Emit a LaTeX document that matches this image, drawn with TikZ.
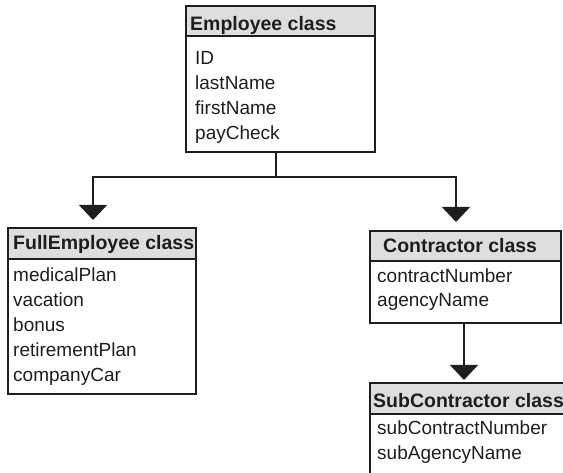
\documentclass[tikz,border=0pt]{standalone}
\usepackage{fontspec}
\setmainfont{Liberation Sans}
\usetikzlibrary{arrows.meta}
\definecolor{headgray}{RGB}{222,222,222}
\definecolor{ink}{RGB}{30,30,30}
\begin{document}
\begin{tikzpicture}[x=1pt,y=-1pt,
  frame/.style={draw=ink, line width=1.6pt, anchor=north west, inner sep=0pt},
  head/.style={frame, fill=headgray},
  title/.style={anchor=base west, inner sep=0pt, text=ink, font=\bfseries\fontsize{19.5}{24}\selectfont},
  attr/.style={anchor=base west, inner sep=0pt, text=ink, font=\fontsize{19}{25}\selectfont},
  conn/.style={draw=ink, line width=1.4pt},
  tip/.style={-{Triangle[width=28pt,length=15pt]}}]
\useasboundingbox (0,0) rectangle (563,473);
\clip (0,0) rectangle (563,473);

% Employee class
\node[frame, minimum width=189pt, minimum height=146pt] (emp) at (185,5) {};
\node[head, minimum width=189pt, minimum height=30pt] (emph) at (185,5) {};
\node[title] (empt) at (190,31) {Employee class};
\foreach \t [count=\i] in {ID,lastName,firstName,payCheck}
  \node[attr] (emp\i) at (195,{65+24.7*(\i-1)}) {\t};

% FullEmployee class
\node[frame, minimum width=188pt, minimum height=166pt] (full) at (7,227) {};
\node[head, minimum width=188pt, minimum height=31pt] (fullh) at (7,227) {};
\node[title] (fullt) at (13,250) {FullEmployee class};
\foreach \t [count=\i] in {medicalPlan,vacation,bonus,retirementPlan,companyCar}
  \node[attr] (full\i) at (13,{282+25*(\i-1)}) {\t};

% Contractor class
\node[frame, minimum width=191pt, minimum height=92pt] (con) at (369,230) {};
\node[head, minimum width=191pt, minimum height=30pt] (conh) at (369,230) {};
\node[title] (cont) at (383,253) {Contractor class};
\foreach \t [count=\i] in {contractNumber,agencyName}
  \node[attr] (con\i) at (377,{283+24*(\i-1)}) {\t};

% SubContractor class (runs past the right and lower edges)
\node[frame, minimum width=220pt, minimum height=110pt] (sub) at (369,382) {};
\node[head, minimum width=220pt, minimum height=31pt] (subh) at (369,382) {};
\node[title] (subt) at (373,408) {SubContractor class};
\foreach \t [count=\i] in {subContractNumber,subAgencyName}
  \node[attr] (sub\i) at (377,{435+25*(\i-1)}) {\t};

% inheritance connectors
\coordinate (empOut) at (276,151);
\coordinate (split) at (276,177);
\coordinate (fullIn) at (93,220);
\coordinate (conIn) at (456,222);
\coordinate (conOut) at (464,322);
\coordinate (subIn) at (464,380);
\draw[conn] (empOut) -- (split);
\draw[conn, tip] (split) -| (fullIn);
\draw[conn, tip] (split) -| (conIn);
\draw[conn, tip] (conOut) -- (subIn);
\end{tikzpicture}
\end{document}
